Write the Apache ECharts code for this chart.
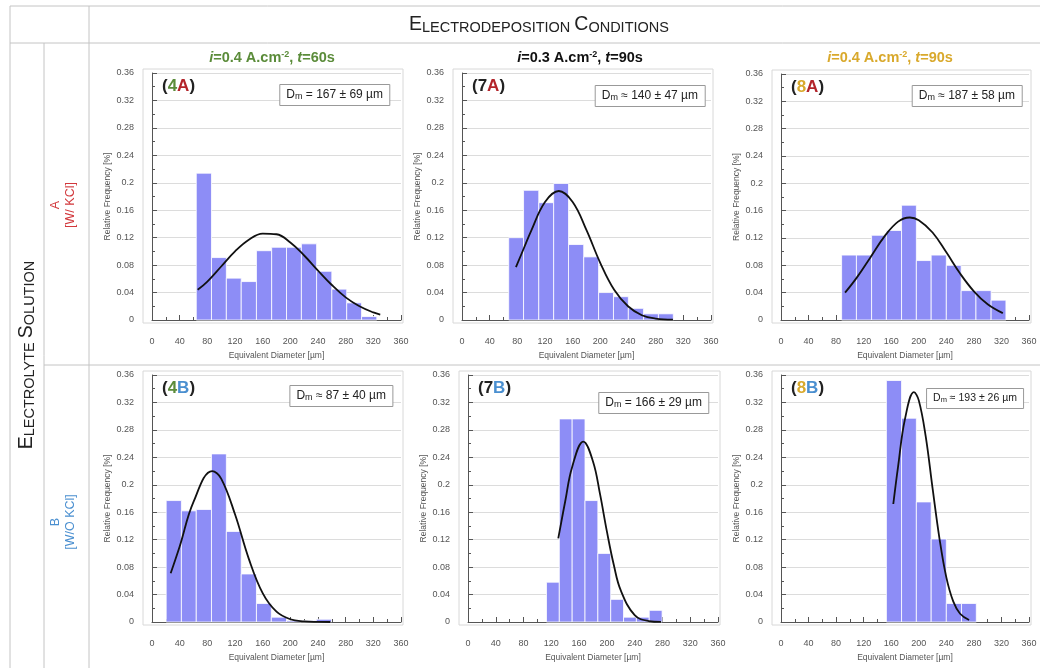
<!DOCTYPE html>
<html>
<head>
<meta charset="utf-8">
<script src="https://cdn.jsdelivr.net/npm/echarts@6/dist/echarts.min.js"></script>
<style>
html, body { margin: 0; padding: 0; background: #fff; }
#main { width: 1040px; height: 668px; }
</style>
</head>
<body>
<div id="main"></div>
<script>
// histogram bin edges [um] and relative frequencies
var edges4A = [64, 86, 107.5, 129, 151, 173, 194.5, 216, 238, 260, 281.5, 303, 325];
var freq4A  = [0.214, 0.091, 0.061, 0.056, 0.101, 0.106, 0.106, 0.111, 0.071, 0.045, 0.025, 0.005];
var edges7A = [67.5, 89, 111, 132.5, 154, 176, 197.5, 219, 240.5, 262.5, 284, 305.5];
var freq7A  = [0.12, 0.189, 0.171, 0.199, 0.11, 0.092, 0.04, 0.034, 0.017, 0.009, 0.009];
var edges8A = [88, 109.5, 131.5, 153, 175, 196.5, 218, 240, 261.5, 283, 305, 326.5];
var freq8A  = [0.095, 0.095, 0.124, 0.131, 0.168, 0.087, 0.095, 0.08, 0.043, 0.043, 0.029];
var edges4B = [20.5, 42.5, 64, 86, 107.5, 129, 151, 172.5, 194.5, 216, 237.5, 259.5];
var freq4B  = [0.177, 0.162, 0.164, 0.245, 0.132, 0.07, 0.027, 0.007, 0.002, 0.002, 0.004];
var edges7B = [113, 131.5, 150, 168.5, 187, 205.5, 224, 242.5, 261, 279.5];
var freq7B  = [0.058, 0.296, 0.296, 0.177, 0.1, 0.033, 0.007, 0.007, 0.017];
var edges8B = [153, 175, 196.5, 218, 240, 262, 283.5];
var freq8B  = [0.352, 0.297, 0.175, 0.121, 0.027, 0.027];

// fitted distribution curves
var curveX4A = [66, 80, 100, 120, 140, 160, 180, 200, 220, 240, 260, 280, 300, 320, 330];
var curveY4A = [0.044, 0.056, 0.078, 0.1, 0.117, 0.126, 0.125, 0.113, 0.094, 0.072, 0.051, 0.033, 0.02, 0.011, 0.008];
var curveX7A = [78, 90, 100, 120, 140, 160, 180, 200, 220, 240, 260, 280, 305];
var curveY7A = [0.077, 0.106, 0.13, 0.172, 0.188, 0.172, 0.131, 0.083, 0.044, 0.02, 0.007, 0.002, 0.0005];
var curveX8A = [93, 110, 130, 150, 170, 187, 200, 220, 240, 260, 280, 300, 322];
var curveY8A = [0.04, 0.062, 0.092, 0.122, 0.144, 0.15, 0.146, 0.128, 0.099, 0.068, 0.042, 0.023, 0.01];
var curveX4B = [27, 40, 60, 87, 100, 120, 140, 160, 180, 200, 220, 240, 258];
var curveY4B = [0.071, 0.11, 0.175, 0.22, 0.209, 0.157, 0.092, 0.042, 0.015, 0.004, 0.001, 0.0002, 0];
var curveX7B = [130, 140, 150, 166, 180, 190, 200, 210, 220, 240, 260, 278];
var curveY7B = [0.122, 0.176, 0.226, 0.263, 0.234, 0.187, 0.132, 0.083, 0.046, 0.01, 0.0014, 0.0002];
var curveX8B = [163, 170, 180, 193, 200, 210, 220, 230, 240, 250, 260, 273];
var curveY8B = [0.172, 0.227, 0.296, 0.335, 0.323, 0.271, 0.195, 0.122, 0.065, 0.03, 0.012, 0.003];

// mean diameter labels
var dmText = ['= 167 ± 69 µm', '≈ 140 ± 47 µm', '≈ 187 ± 58 µm', '≈ 87 ± 40 µm', '= 166 ± 29 µm', '≈ 193 ± 26 µm'];

var xMax = 360, xStep = 40;
var yMax = 0.36, yStep = 0.04;

var GREEN = '#5b8c3a', GOLD = '#d9a92c', RED = '#b3242a', BLUE = '#4a8fd0';
var FONT = '"Liberation Sans", Arial, sans-serif';

var panels = [
    {edges: edges4A, freq: freq4A, cx: curveX4A, cy: curveY4A, num: '4', numColor: GREEN, row: 'A', x0: 152, x1: 401, top: 73, bottom: 320, boxRight: 390, boxTop: 84, boxFont: 12},
    {edges: edges7A, freq: freq7A, cx: curveX7A, cy: curveY7A, num: '7', numColor: '#222', row: 'A', x0: 462, x1: 711, top: 73, bottom: 320, boxRight: 705, boxTop: 85, boxFont: 12},
    {edges: edges8A, freq: freq8A, cx: curveX8A, cy: curveY8A, num: '8', numColor: GOLD, row: 'A', x0: 781, x1: 1029, top: 74, bottom: 320, boxRight: 1022, boxTop: 85, boxFont: 12},
    {edges: edges4B, freq: freq4B, cx: curveX4B, cy: curveY4B, num: '4', numColor: GREEN, row: 'B', x0: 152, x1: 401, top: 375, bottom: 622, boxRight: 393, boxTop: 385, boxFont: 12},
    {edges: edges7B, freq: freq7B, cx: curveX7B, cy: curveY7B, num: '7', numColor: '#222', row: 'B', x0: 468, x1: 718, top: 375, bottom: 622, boxRight: 709, boxTop: 392, boxFont: 12},
    {edges: edges8B, freq: freq8B, cx: curveX8B, cy: curveY8B, num: '8', numColor: GOLD, row: 'B', x0: 781, x1: 1029, top: 375, bottom: 622, boxRight: 1024, boxTop: 388, boxFont: 10.5}
];

function renderBin(params, api) {
    var p0 = api.coord([api.value(0), api.value(2)]);
    var p1 = api.coord([api.value(1), 0]);
    return {
        type: 'rect',
        shape: {x: p0[0], y: p0[1], width: p1[0] - p0[0], height: p1[1] - p0[1]},
        style: {fill: '#8d8df6', stroke: '#ffffff', lineWidth: 0.8}
    };
}

var grids = [], xAxes = [], yAxes = [], series = [], titles = [], frames = [];
var axisGray = '#555';

panels.forEach(function(p, i) {
    grids.push({left: p.x0, top: p.top, width: p.x1 - p.x0, height: p.bottom - p.top});
    xAxes.push({
        type: 'value', gridIndex: i, min: 0, max: xMax, interval: xStep, offset: 7,
        name: 'Equivalent Diameter [µm]', nameLocation: 'middle', nameGap: 24,
        nameTextStyle: {fontSize: 8.5, color: axisGray, fontFamily: FONT},
        axisLine: {lineStyle: {color: axisGray, width: 1}},
        axisTick: {inside: true, length: 5, lineStyle: {color: axisGray}},
        minorTick: {show: true, splitNumber: 2, length: 3, lineStyle: {color: axisGray}},
        axisLabel: {fontSize: 9, color: axisGray, margin: 10, fontFamily: FONT},
        splitLine: {show: false}
    });
    yAxes.push({
        type: 'value', gridIndex: i, min: 0, max: yMax, interval: yStep, offset: 9,
        name: 'Relative Frequency [%]', nameLocation: 'middle', nameGap: 31,
        nameTextStyle: {fontSize: 8.5, color: axisGray, fontFamily: FONT},
        axisLine: {show: true, lineStyle: {color: axisGray, width: 1}},
        axisTick: {show: true, inside: true, length: 5, lineStyle: {color: axisGray}},
        minorTick: {show: true, splitNumber: 2, length: 3, lineStyle: {color: axisGray}},
        axisLabel: {fontSize: 9, color: axisGray, margin: 9, fontFamily: FONT},
        splitLine: {show: true, lineStyle: {color: '#dcdcdc', width: 1}}
    });
    var bins = p.freq.map(function(v, k) { return [p.edges[k], p.edges[k + 1], v]; });
    series.push({
        type: 'custom', xAxisIndex: i, yAxisIndex: i, renderItem: renderBin,
        encode: {x: [0, 1], y: 2}, data: bins, z: 2
    });
    series.push({
        type: 'line', xAxisIndex: i, yAxisIndex: i, smooth: 0.4, symbol: 'none', z: 3,
        lineStyle: {color: '#111', width: 1.8},
        data: p.cx.map(function(x, k) { return [x, p.cy[k]]; })
    });
    titles.push({
        text: '{k|(}{n|' + p.num + '}{r|' + p.row + '}{k|)}',
        left: p.x0 + 10, top: p.top + 5, padding: 0,
        textStyle: {
            fontFamily: FONT,
            rich: {
                k: {fontSize: 17, fontWeight: 'bold', color: '#222', fontFamily: FONT},
                n: {fontSize: 17, fontWeight: 'bold', color: p.numColor, fontFamily: FONT},
                r: {fontSize: 17, fontWeight: 'bold', color: p.row === 'A' ? RED : BLUE, fontFamily: FONT}
            }
        }
    });
    titles.push({
        text: '{t|D}{s|m}{t| ' + dmText[i] + '}',
        right: 1040 - p.boxRight, top: p.boxTop,
        padding: [5, 7, 5, 7], borderColor: '#999', borderWidth: 1, backgroundColor: '#fff',
        textStyle: {
            fontFamily: FONT, fontWeight: 'normal',
            rich: {
                t: {fontSize: p.boxFont, color: '#222', fontWeight: 'normal', fontFamily: FONT},
                s: {fontSize: p.boxFont - 3, color: '#222', fontWeight: 'normal', verticalAlign: 'bottom', fontFamily: FONT}
            }
        }
    });
    frames.push({
        type: 'rect', z: 0, silent: true,
        shape: {x: p.x0 - 9, y: p.top - 4, width: p.x1 - p.x0 + 11, height: p.bottom - p.top + 7},
        style: {fill: 'none', stroke: '#d8d8d8', lineWidth: 1}
    });
});

var lineGray = '#c4c4c4';
function hline(x1, x2, y) {
    return {type: 'line', z: 0, silent: true, shape: {x1: x1, y1: y, x2: x2, y2: y}, style: {stroke: lineGray, lineWidth: 1}};
}
function vline(x, y1, y2) {
    return {type: 'line', z: 0, silent: true, shape: {x1: x, y1: y1, x2: x, y2: y2}, style: {stroke: lineGray, lineWidth: 1}};
}

function smallCaps(words) {
    return words.map(function(w) { return '{B|' + w.charAt(0) + '}{S|' + w.slice(1) + '}'; }).join('{S| }');
}
var capsRich = {
    B: {fontSize: 19.5, fill: '#222', fontFamily: FONT, verticalAlign: 'bottom'},
    S: {fontSize: 14.5, fill: '#222', fontFamily: FONT, verticalAlign: 'bottom'}
};
function headerRich(color) {
    return {
        it: {fontSize: 14.5, fontWeight: 'bold', fontStyle: 'italic', fill: color, fontFamily: FONT},
        b: {fontSize: 14.5, fontWeight: 'bold', fill: color, fontFamily: FONT},
        sup: {fontSize: 9, fontWeight: 'bold', fill: color, fontFamily: FONT, verticalAlign: 'top'}
    };
}
function header(x, cur, time, color) {
    return {
        type: 'text', x: x, y: 58, z: 5,
        style: {
            text: '{it|i}{b|=' + cur + ' A.cm}{sup|-2}{b|, }{it|t}{b|=' + time + 's}',
            align: 'center', verticalAlign: 'middle', rich: headerRich(color)
        }
    };
}

var graphics = [
    hline(10, 1040, 6), hline(10, 1040, 43), hline(44, 1040, 365),
    vline(10, 6, 668), vline(44, 43, 668), vline(89, 6, 668),
    {
        type: 'text', x: 539, y: 25, z: 5,
        style: {text: smallCaps(['ELECTRODEPOSITION', 'CONDITIONS']), align: 'center', verticalAlign: 'middle', rich: capsRich}
    },
    header(272, '0.4', '60', GREEN),
    header(580, '0.3', '90', '#111'),
    header(890, '0.4', '90', GOLD),
    {
        type: 'text', x: 27, y: 355, rotation: Math.PI / 2, z: 5,
        style: {text: smallCaps(['ELECTROLYTE', 'SOLUTION']), align: 'center', verticalAlign: 'middle', rich: capsRich}
    },
    {
        type: 'text', x: 63, y: 205, rotation: Math.PI / 2, z: 5,
        style: {text: 'A\n[W/ KCl]', align: 'center', verticalAlign: 'middle', fill: '#d2383c', fontSize: 12.5, lineHeight: 15, fontFamily: FONT}
    },
    {
        type: 'text', x: 63, y: 522, rotation: Math.PI / 2, z: 5,
        style: {text: 'B\n[W/O KCl]', align: 'center', verticalAlign: 'middle', fill: BLUE, fontSize: 12.5, lineHeight: 15, fontFamily: FONT}
    }
].concat(frames);

var chart = echarts.init(document.getElementById('main'));
chart.setOption({
    animation: false,
    backgroundColor: '#fff',
    title: titles,
    grid: grids,
    xAxis: xAxes,
    yAxis: yAxes,
    series: series,
    graphic: {elements: graphics}
});
</script>
</body>
</html>
